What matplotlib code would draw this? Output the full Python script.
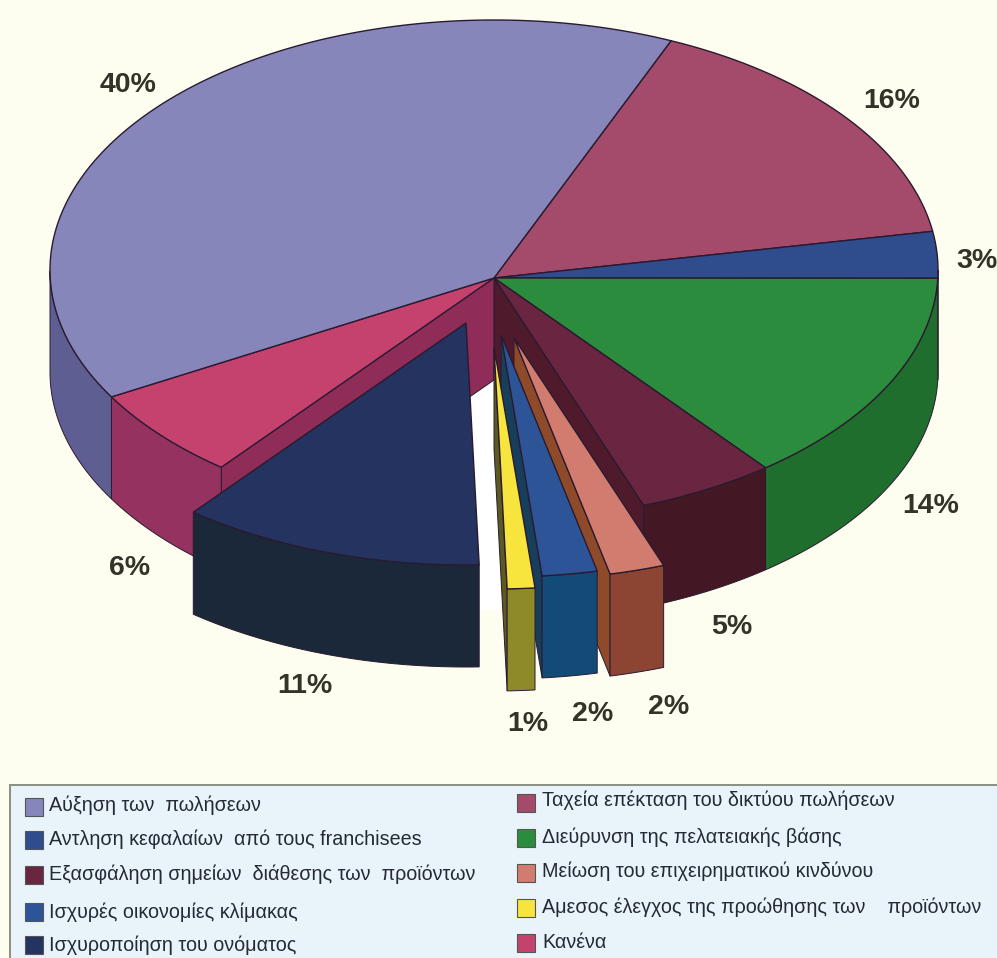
import numpy as np
import matplotlib
matplotlib.use('Agg')
import matplotlib.pyplot as plt
from matplotlib.patches import Polygon, Rectangle

plt.rcParams['font.family'] = ['Liberation Sans', 'DejaVu Sans']

# clockwise from the top of the pie
percents = [16, 3, 14, 5, 2, 2, 1, 11, 6, 40]
top_colors = ['#a44a6a', '#2f4c8c', '#2c8c3e', '#6a2640', '#d27c70',
              '#2c5496', '#f7e43c', '#24335f', '#c5426f', '#8786ba']
wall_colors = ['#7a3050', '#22386a', '#1f6e2e', '#431824', '#8c4433',
               '#124a78', '#8f8a28', '#1b2839', '#963260', '#5f5e92']
cut_colors = ['#7a3050', '#22386a', '#1f6e2e', '#4e1a2c', '#8f4a2a',
              '#173f5c', '#5c5a20', '#1b2839', '#8f2c58', '#5f5e92']

# how far each piece is pulled out of the pie, as a share of the radii
explode_x = [0, 0, 0, 0, 0.045, 0.016, 0.0, -0.063, 0, 0]
explode_y = [0, 0, 0, 0, 0.24, 0.228, 0.276, 0.18, 0, 0]

legend_left = ['Αύξηση των  πωλήσεων', 'Αντληση κεφαλαίων  από τους franchisees',
               'Εξασφάληση σημείων  διάθεσης των  προϊόντων', 'Ισχυρές οικονομίες κλίμακας',
               'Ισχυροποίηση του ονόματος']
legend_left_idx = [9, 1, 3, 5, 7]
legend_right = ['Ταχεία επέκταση του δικτύου πωλήσεων', 'Διεύρυνση της πελατειακής βάσης',
                'Μείωση του επιχειρηματικού κινδύνου', 'Αμεσος έλεγχος της προώθησης των    προϊόντων',
                'Κανένα']
legend_right_idx = [0, 2, 4, 6, 8]

CX, CY = 494, 270
APEX_Y = 278
RX, RY = 444, 250
DEPTH = 102
START = 66.5

BG = '#fefef0'
EDGE = '#2a1a30'

label_pos = [(892, 101), (977, 261), (931, 506), (732, 627), (669, 707),
             (593, 714), (528, 724), (305, 686), (130, 568), (128, 85)]


def rim(theta, ox, oy):
    t = np.radians(theta)
    return np.column_stack((CX + ox + RX * np.cos(t), CY + oy - RY * np.sin(t)))


def draw_walls(ax, a0, a1, ox, oy, wall, cut, cut_start, cut_end, z):
    tip = np.array([CX + ox, APEX_Y + oy])
    down = np.array([0, DEPTH])
    if cut_start and np.sin(np.radians(a0 + 90)) < 0:
        p = rim(a0, ox, oy)[0]
        ax.add_patch(Polygon([tip, p, p + down, tip + down], fc=cut, ec=EDGE, lw=0.7, zorder=z))
    if cut_end and np.sin(np.radians(a1 - 90)) < 0:
        p = rim(a1, ox, oy)[0]
        ax.add_patch(Polygon([tip, p, p + down, tip + down], fc=cut, ec=EDGE, lw=0.7, zorder=z))
    th = np.linspace(a0, a1, 400)
    th = th[np.sin(np.radians(th)) <= 0]
    if len(th) > 1:
        arc = rim(th, ox, oy)
        ax.add_patch(Polygon(np.vstack((arc, arc[::-1] + down)), fc=wall, ec=EDGE, lw=0.7, zorder=z + 0.1))


def draw_top(ax, a0, a1, ox, oy, color, z):
    arc = rim(np.linspace(a0, a1, 300), ox, oy)
    tip = [[CX + ox, APEX_Y + oy]]
    ax.add_patch(Polygon(np.vstack((tip, arc)), fc=color, ec=EDGE, lw=1.0, zorder=z))


fig = plt.figure(figsize=(9.97, 9.58), dpi=100, facecolor=BG)
ax = fig.add_axes([0, 0, 1, 1])
ax.set_xlim(0, 997)
ax.set_ylim(958, 0)
ax.axis('off')

# paler strip showing through the gap under the pulled pieces
ax.add_patch(Rectangle((470, 370), 30, 240, fc='white', ec='none', zorder=1))

sweep = np.array(percents) * 3.6
ends = START - np.cumsum(sweep)
starts = ends + sweep
pulled = [ex != 0 or ey != 0 for ex, ey in zip(explode_x, explode_y)]
n = len(percents)

# the pieces that stay in the pie go first, the pulled ones sit in front of them
for i in range(n):
    if pulled[i]:
        continue
    draw_walls(ax, starts[i], ends[i], 0, 0, wall_colors[i], cut_colors[i],
               pulled[i - 1], pulled[(i + 1) % n], 2)
for i in range(n):
    if not pulled[i]:
        draw_top(ax, starts[i], ends[i], 0, 0, top_colors[i], 3)

z = 4
for i in range(n):
    if not pulled[i]:
        continue
    ox, oy = explode_x[i] * RX, explode_y[i] * RY
    draw_walls(ax, starts[i], ends[i], ox, oy, wall_colors[i], cut_colors[i], True, True, z)
    draw_top(ax, starts[i], ends[i], ox, oy, top_colors[i], z + 0.2)
    z += 1

for pct, (x, y) in zip(percents, label_pos):
    ax.text(x, y, f'{pct}%', ha='center', va='center', fontsize=20.5,
            fontweight='bold', color='#33332a', zorder=20)

# legend box runs off the right and bottom edges
ax.add_patch(Rectangle((10, 785), 1000, 190, fc='#e9f4fa', ec='#8a8f80', lw=1.4, zorder=10))
for labels, idx, sx, tx, sw_ys, txt_ys in [
        (legend_left, legend_left_idx, 34, 49, [807, 840, 875, 912, 945], [805, 839, 874, 912, 945]),
        (legend_right, legend_right_idx, 526, 542, [803, 838, 873, 908, 943], [800, 837, 871, 907, 942])]:
    for lab, k, sy, ty in zip(labels, idx, sw_ys, txt_ys):
        ax.add_patch(Rectangle((sx - 9, sy - 9), 18, 18, fc=top_colors[k], ec='#555555', lw=0.8, zorder=11))
        ax.text(tx, ty, lab, ha='left', va='center', fontsize=14.2, color='#252a34', zorder=12)

fig.savefig('out.png', dpi=100, facecolor=BG)
